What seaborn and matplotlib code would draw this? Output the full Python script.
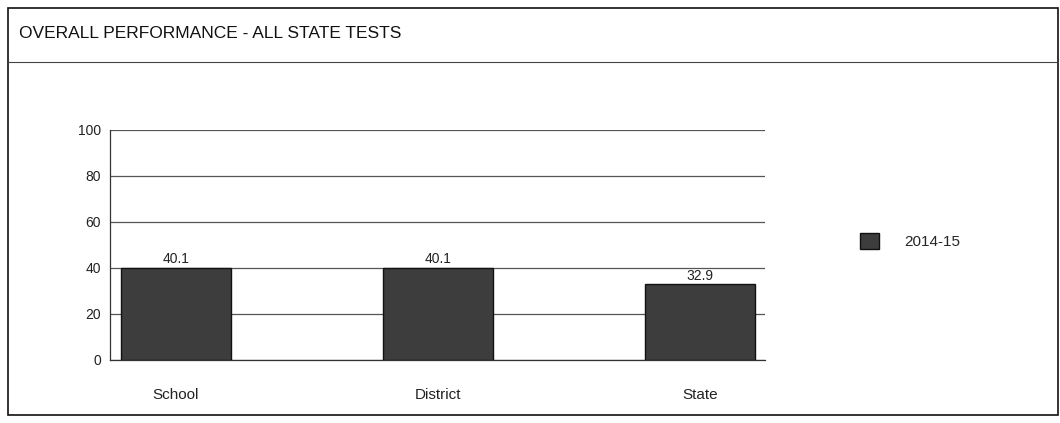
import matplotlib
matplotlib.use('Agg')
import matplotlib.pyplot as plt
from matplotlib.patches import Rectangle
from matplotlib.lines import Line2D
import pandas as pd
import seaborn as sns

categories = ['School', 'District', 'State']
values = [40.1, 40.1, 32.9]
year = '2014-15'
yticks = [0, 20, 40, 60, 80, 100]

sns.set_style('white')
plt.rcParams['font.family'] = ['Liberation Sans', 'DejaVu Sans']

df = pd.DataFrame({'group': categories, 'pct': values, 'year': [year] * len(values)})

fig = plt.figure(figsize=(10.6, 4.23), dpi=100)
ax = fig.add_axes([0.104, 0.149, 0.618, 0.544])

sns.barplot(data=df, x='group', y='pct', hue='year', dodge=False, width=0.42,
            palette=['#3d3d3d'], edgecolor='#111111', linewidth=1.0,
            legend=False, ax=ax, zorder=3)
for c in ax.containers:
    ax.bar_label(c, fmt='%.1f', padding=1, fontsize=10, color='#222222')

ax.set_ylim(0, 100)
ax.set_xlim(-0.25, 2.25)
ax.set_yticks(yticks)
ax.yaxis.grid(True, color='#555555', linewidth=0.9, zorder=0)
ax.set_axisbelow(True)
ax.set_xlabel('')
ax.set_ylabel('')
ax.tick_params(axis='y', labelsize=10, length=3, width=0.8, colors='#222222')
ax.tick_params(axis='x', labelsize=11, length=0, pad=20, colors='#222222')
sns.despine(ax=ax, top=True, right=True)
for s in ['left', 'bottom']:
    ax.spines[s].set_color('#333333')
    ax.spines[s].set_linewidth(0.9)

handle = Rectangle((0, 0), 1, 1, facecolor='#3d3d3d', edgecolor='#111111')
fig.legend([handle], [year], loc='center left', bbox_to_anchor=(0.798, 0.43),
           frameon=False, handlelength=1.3, handleheight=1.3, handletextpad=1.6,
           prop={'size': 11})

# outer frame and header
fig.patches.append(Rectangle((0.008, 0.02), 0.99, 0.96, transform=fig.transFigure,
                             fill=False, edgecolor='#111111', linewidth=1.2))
fig.add_artist(Line2D([0.008, 0.998], [0.853, 0.853], color='#444444', linewidth=0.8))
fig.text(0.018, 0.92, 'OVERALL PERFORMANCE - ALL STATE TESTS', fontsize=12.5,
         color='#111111', va='center', ha='left')

fig.savefig('out.png', dpi=100)
